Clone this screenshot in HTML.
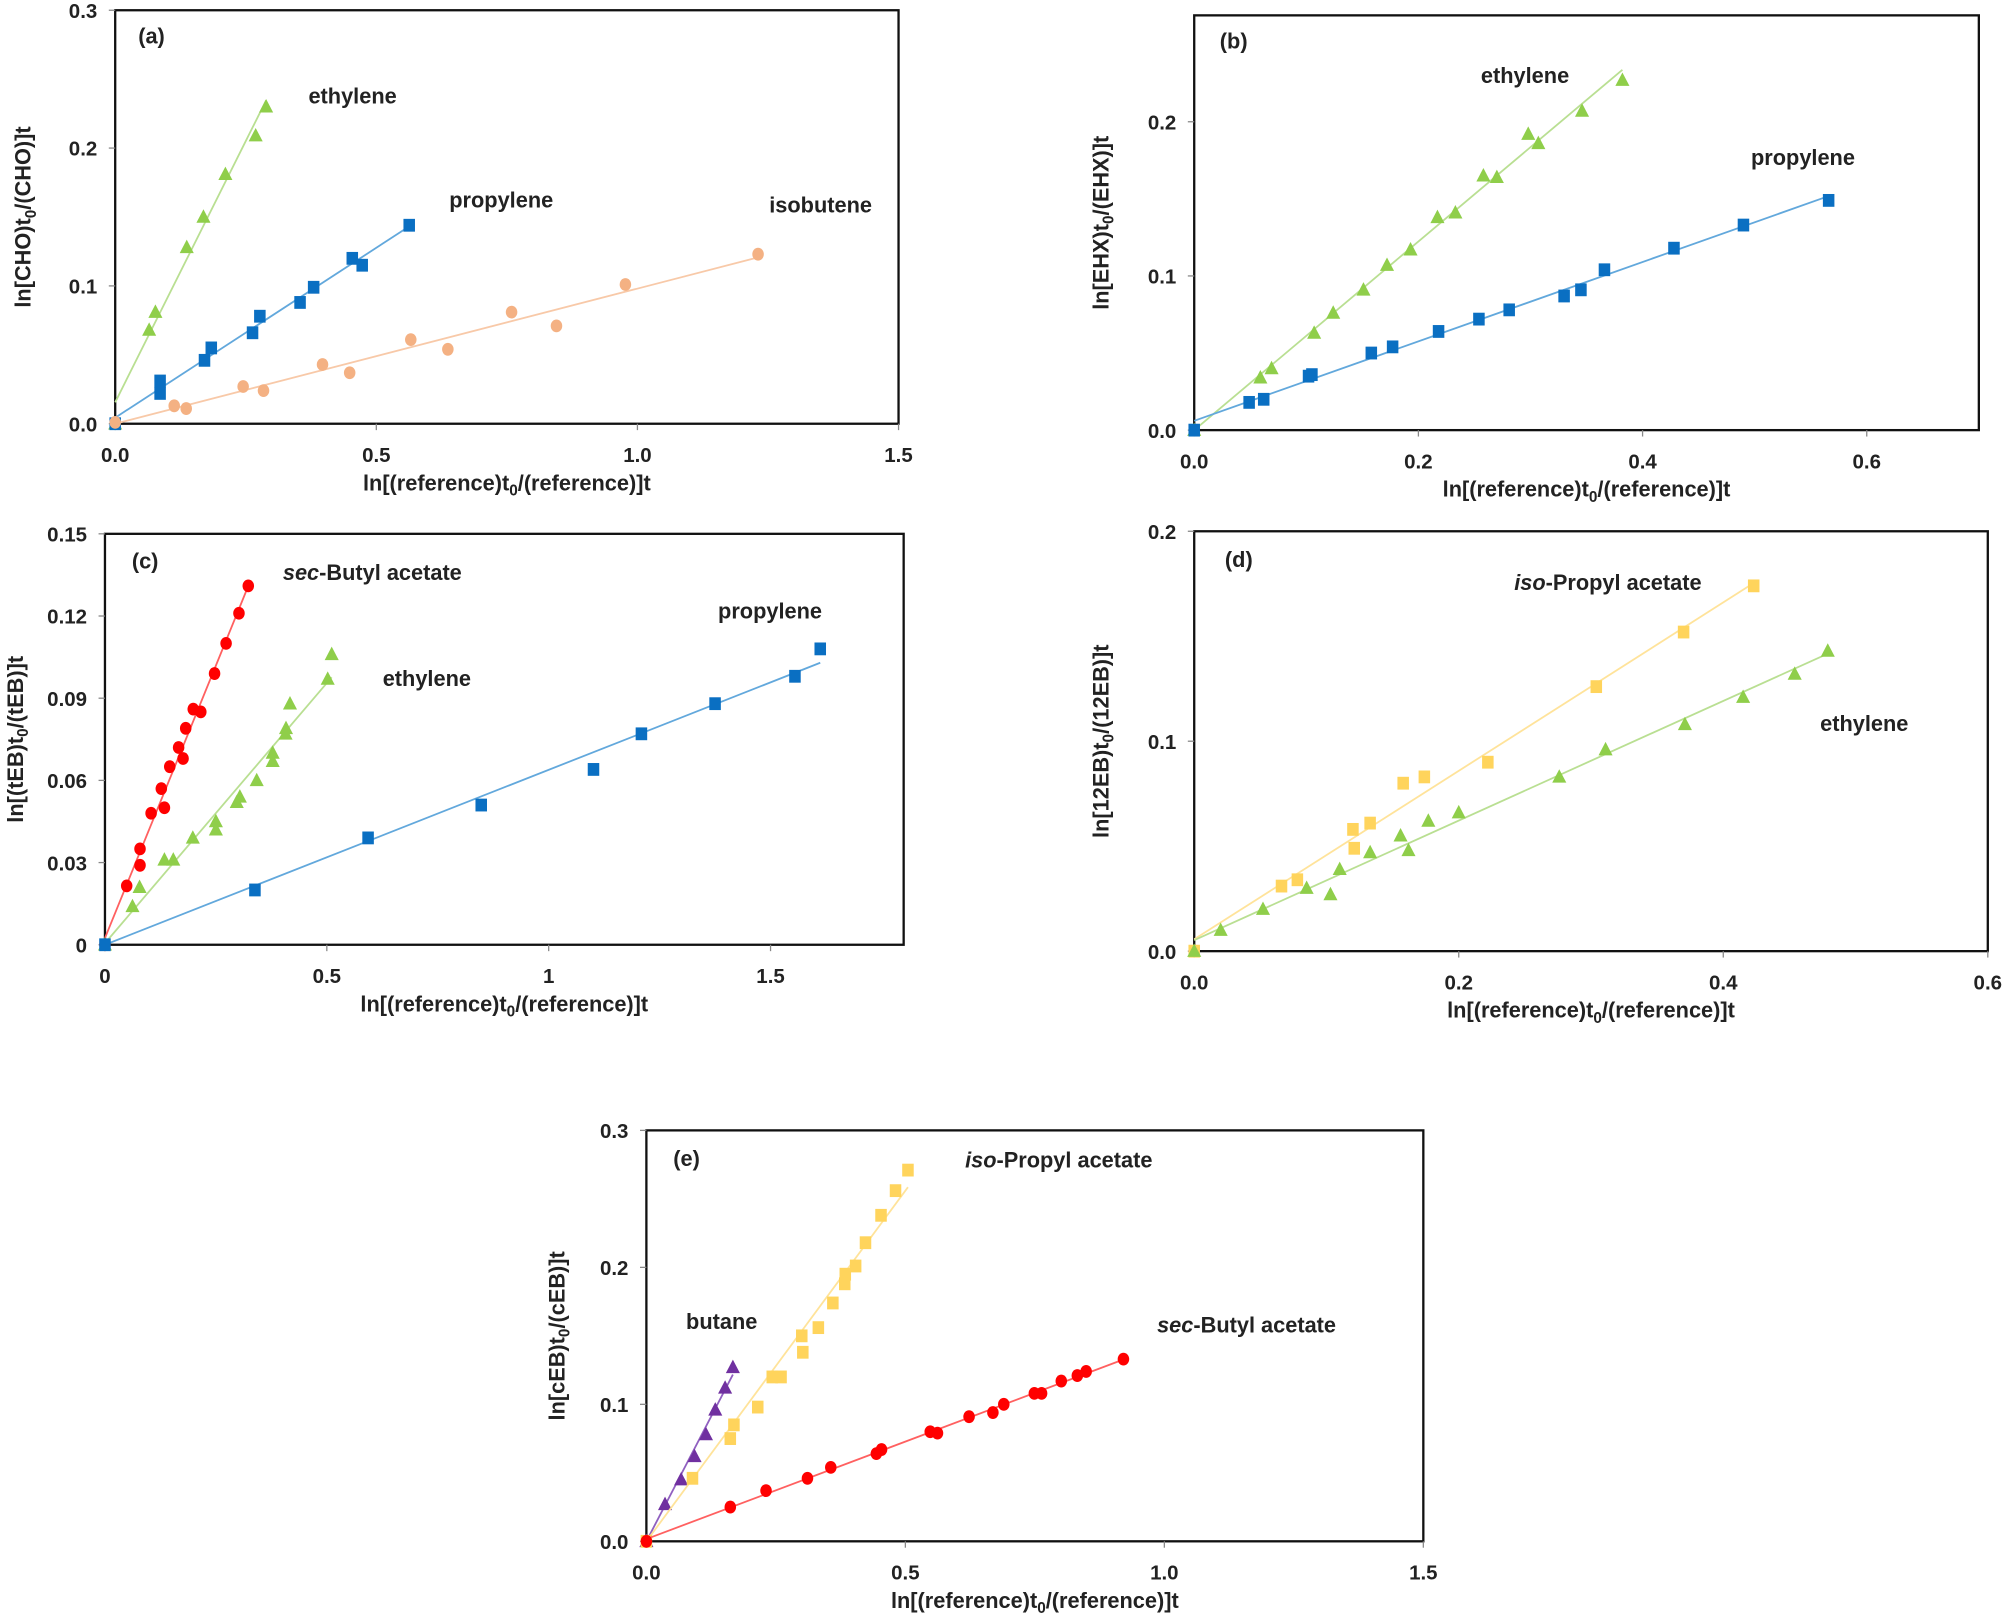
<!DOCTYPE html>
<html><head><meta charset="utf-8"><style>
html,body{margin:0;padding:0;background:#fff}
svg{display:block}
text{font-family:"Liberation Sans",sans-serif;font-weight:bold;fill:#222}
</style></head><body>
<svg id="fig" width="2007" height="1613" viewBox="0 0 1568 1260" preserveAspectRatio="none"></svg>
<script>
// ---- Data arrays ----
// Panel (a)
const aEthX=[0,0.065,0.077,0.137,0.169,0.211,0.269,0.289];
const aEthY=[0,0.068,0.081,0.128,0.150,0.181,0.209,0.230];
const aProX=[0,0.086,0.086,0.171,0.184,0.263,0.277,0.354,0.380,0.454,0.473,0.563];
const aProY=[0,0.031,0.022,0.046,0.055,0.066,0.078,0.088,0.099,0.120,0.115,0.144];
const aIsoX=[0,0.113,0.136,0.245,0.284,0.397,0.449,0.566,0.637,0.759,0.845,0.977,1.231];
const aIsoY=[0.001,0.013,0.011,0.027,0.024,0.043,0.037,0.061,0.054,0.081,0.071,0.101,0.123];
const aXTicks=["0.0","0.5","1.0","1.5"];const aYTicks=["0.0","0.1","0.2","0.3"];
// Panel (b)
const bEthX=[0,0.059,0.069,0.107,0.124,0.151,0.172,0.193,0.217,0.233,0.258,0.270,0.298,0.307,0.346,0.382];
const bEthY=[0,0.034,0.040,0.063,0.076,0.091,0.107,0.117,0.138,0.141,0.165,0.164,0.192,0.186,0.207,0.227];
const bProX=[0,0.049,0.062,0.102,0.105,0.158,0.177,0.218,0.254,0.281,0.330,0.345,0.366,0.428,0.490,0.566];
const bProY=[0,0.018,0.020,0.035,0.036,0.050,0.054,0.064,0.072,0.078,0.087,0.091,0.104,0.118,0.133,0.149];
const bXTicks=["0.0","0.2","0.4","0.6"];const bYTicks=["0.0","0.1","0.2"];
// Panel (c)
const cSecX=[0,0.049,0.079,0.079,0.104,0.134,0.127,0.146,0.176,0.166,0.182,0.199,0.216,0.247,0.273,0.302,0.323];
const cSecY=[0,0.0215,0.029,0.035,0.048,0.050,0.057,0.065,0.068,0.072,0.079,0.086,0.085,0.099,0.110,0.121,0.131];
const cEthX=[0,0.062,0.078,0.134,0.154,0.198,0.25,0.25,0.297,0.304,0.342,0.378,0.378,0.407,0.408,0.417,0.502,0.511];
const cEthY=[0,0.014,0.021,0.031,0.031,0.039,0.042,0.045,0.052,0.054,0.060,0.067,0.070,0.077,0.079,0.088,0.097,0.106];
const cProX=[0,0.338,0.593,0.848,1.101,1.209,1.375,1.555,1.612];
const cProY=[0,0.020,0.039,0.051,0.064,0.077,0.088,0.098,0.108];
const cXTicks=["0","0.5","1","1.5"];const cYTicks=["0","0.03","0.06","0.09","0.12","0.15"];
// Panel (d)
const dIsoX=[0,0.066,0.078,0.120,0.121,0.133,0.158,0.174,0.222,0.304,0.370,0.423];
const dIsoY=[0,0.031,0.034,0.058,0.049,0.061,0.080,0.083,0.090,0.126,0.152,0.174];
const dEthX=[0,0.020,0.052,0.085,0.103,0.110,0.133,0.156,0.162,0.177,0.200,0.276,0.311,0.371,0.415,0.454,0.479];
const dEthY=[0,0.010,0.020,0.030,0.027,0.039,0.047,0.055,0.048,0.062,0.066,0.083,0.096,0.108,0.121,0.132,0.143];
const dXTicks=["0.0","0.2","0.4","0.6"];const dYTicks=["0.0","0.1","0.2"];
// Panel (e)
const eButX=[0,0.036,0.067,0.093,0.115,0.133,0.152,0.167];
const eButY=[0,0.027,0.045,0.062,0.078,0.096,0.112,0.127];
const eIsoX=[0,0.089,0.162,0.169,0.215,0.243,0.260,0.302,0.300,0.332,0.360,0.383,0.384,0.404,0.423,0.453,0.481,0.505];
const eIsoY=[0,0.046,0.075,0.085,0.098,0.120,0.120,0.138,0.150,0.156,0.174,0.188,0.195,0.201,0.218,0.238,0.256,0.271];
const eSecX=[0,0.162,0.231,0.311,0.356,0.444,0.454,0.548,0.562,0.623,0.669,0.690,0.749,0.763,0.801,0.832,0.849,0.921];
const eSecY=[0,0.025,0.037,0.046,0.054,0.064,0.067,0.080,0.079,0.091,0.094,0.100,0.108,0.108,0.117,0.121,0.124,0.133];
const eXTicks=["0.0","0.5","1.0","1.5"];const eYTicks=["0.0","0.1","0.2","0.3"];

const NS="http://www.w3.org/2000/svg";
const svg=document.getElementById('fig');
function mk(tag,attrs,parent){const e=document.createElementNS(NS,tag);for(const k in attrs)e.setAttribute(k,attrs[k]);(parent||svg).appendChild(e);return e;}
const COL={green:['#8fce4a','#b9df92'],blue:['#0a6fc2','#62a8dc'],orange:['#f4b183','#f8c9a8'],red:['#ff0000','#ff6060'],yellow:['#ffd45c','#ffe39a'],purple:['#7030a0','#9060c0']};

function panel(p){
  const g=mk('g',{});
  
  
  const sx=v=>p.x0+(v-p.xmin)/(p.xmax-p.xmin)*(p.x1-p.x0);
  const sy=v=>p.y0-(v-p.ymin)/(p.ymax-p.ymin)*(p.y0-p.y1);
  const fr=mk('rect',{x:p.x0,y:p.y1,width:p.x1-p.x0,height:p.y0-p.y1,fill:'none',stroke:'#111','stroke-width':1.8},g);
  
  
  p.xt.forEach((t,i)=>{const v=p.xmin+i*p.xstep;const x=sx(v);
    mk('line',{x1:x,x2:x,y1:p.y0,y2:p.y0+5,stroke:'#888','stroke-width':1},g);
    const tx=mk('text',{x:x,y:p.y0+30,'text-anchor':'middle','font-size':16},g);tx.textContent=t;
    
    });
  p.yt.forEach((t,i)=>{const v=p.ymin+i*p.ystep;const y=sy(v);
    mk('line',{x1:p.x0-5,x2:p.x0,y1:y,y2:y,stroke:'#888','stroke-width':1},g);
    const tx=mk('text',{x:p.x0-14,y:y+6,'text-anchor':'end','font-size':16},g);tx.textContent=t;
    
    });
  const xt=mk('text',{x:(p.x0+p.x1)/2,y:p.y0+52,'text-anchor':'middle','font-size':17},g);
  xt.innerHTML='ln[(reference)t<tspan font-size="12" dy="4">0</tspan><tspan dy="-4">/(reference)]t</tspan>';
  
  
  const yt=mk('text',{transform:`translate(${p.ytx},${(p.y0+p.y1)/2}) rotate(-90)`,'text-anchor':'middle','font-size':17},g);
  yt.innerHTML=`ln[${p.sp}]t<tspan font-size="12" dy="4">0</tspan><tspan dy="-4">/${p.sp.replace('(','(').replace(/^\(/,'(')}]t</tspan>`;
  yt.innerHTML=`ln${p.sp}t<tspan font-size="12" dy="4">0</tspan><tspan dy="-4">/${p.sp2}t</tspan>`;
  
  
  const pl=mk('text',{x:p.lab[0],y:p.lab[1],'font-size':17},g);pl.textContent='('+p.id+')';
  
  
  p.series.forEach(s=>{
    const [c,lc]=COL[s.c];const n=s.x.length;
    let mx=0,my=0;for(let i=0;i<n;i++){mx+=s.x[i];my+=s.y[i];}mx/=n;my/=n;
    let sxy=0,sxx=0;for(let i=0;i<n;i++){sxy+=(s.x[i]-mx)*(s.y[i]-my);sxx+=(s.x[i]-mx)**2;}
    const b=sxy/sxx,a=my-b*mx;const xe=Math.max(...s.x);
    const ln=mk('line',{x1:sx(0),y1:sy(Math.max(a,0)),x2:sx(xe),y2:sy(a+b*xe),stroke:lc,'stroke-width':1.4},g);
    
    
    for(let i=0;i<n;i++){const X=sx(s.x[i]),Y=sy(s.y[i]);let m;
      if(s.m==='sq')m=mk('rect',{x:X-4.5,y:Y-5,width:9,height:10,fill:c},g);
      else if(s.m==='tri')m=mk('polygon',{points:`${X},${Y-6} ${X-5.5},${Y+4.5} ${X+5.5},${Y+4.5}`,fill:c},g);
      else m=mk('ellipse',{cx:X,cy:Y,rx:4.5,ry:5,fill:c},g);
      
      }
    const t=mk('text',{x:s.lx,y:s.ly,'font-size':17},g);
    if(s.it){t.innerHTML=`<tspan font-style="italic">${s.it}</tspan>${s.label}`;}else t.textContent=s.label;
    
    
  });
}
panel({id:'a',x0:90,x1:702,y0:331,y1:8,xmin:0,xmax:1.5,ymin:0,ymax:0.3,xstep:0.5,ystep:0.1,xt:aXTicks,yt:aYTicks,ytx:24,sp:'[CHO)',sp2:'(CHO)]',lab:[108,34],series:[
 {name:'ethylene',c:'green',m:'tri',x:aEthX,y:aEthY,label:'ethylene',lx:241,ly:81},
 {name:'propylene',c:'blue',m:'sq',x:aProX,y:aProY,label:'propylene',lx:351,ly:162},
 {name:'isobutene',c:'orange',m:'ci',x:aIsoX,y:aIsoY,label:'isobutene',lx:601,ly:166}]});
panel({id:'b',x0:933,x1:1546,y0:336,y1:12,xmin:0,xmax:0.7,ymin:0,ymax:0.269,xstep:0.2,ystep:0.1,xt:bXTicks,yt:bYTicks,ytx:866,sp:'[EHX)',sp2:'(EHX)]',lab:[953,38],series:[
 {name:'ethylene',c:'green',m:'tri',x:bEthX,y:bEthY,label:'ethylene',lx:1157,ly:65},
 {name:'propylene',c:'blue',m:'sq',x:bProX,y:bProY,label:'propylene',lx:1368,ly:129}]});
panel({id:'c',x0:82,x1:706,y0:738,y1:417,xmin:0,xmax:1.8,ymin:0,ymax:0.15,xstep:0.5,ystep:0.03,xt:cXTicks,yt:cYTicks,ytx:18,sp:'[(tEB)',sp2:'(tEB)]',lab:[103,444],series:[
 {name:'sec-butyl-acetate',c:'red',m:'ci',x:cSecX,y:cSecY,it:'sec',label:'-Butyl acetate',lx:221,ly:453},
 {name:'ethylene',c:'green',m:'tri',x:cEthX,y:cEthY,label:'ethylene',lx:299,ly:536},
 {name:'propylene',c:'blue',m:'sq',x:cProX,y:cProY,label:'propylene',lx:561,ly:483}]});
panel({id:'d',x0:933,x1:1553,y0:743,y1:415,xmin:0,xmax:0.6,ymin:0,ymax:0.2,xstep:0.2,ystep:0.1,xt:dXTicks,yt:dYTicks,ytx:866,sp:'[12EB)',sp2:'(12EB)]',lab:[957,443],series:[
 {name:'iso-propyl-acetate',c:'yellow',m:'sq',x:dIsoX,y:dIsoY,it:'iso',label:'-Propyl acetate',lx:1183,ly:461},
 {name:'ethylene',c:'green',m:'tri',x:dEthX,y:dEthY,label:'ethylene',lx:1422,ly:571}]});
panel({id:'e',x0:505,x1:1112,y0:1204,y1:883,xmin:0,xmax:1.5,ymin:0,ymax:0.3,xstep:0.5,ystep:0.1,xt:eXTicks,yt:eYTicks,ytx:441,sp:'[cEB)',sp2:'(cEB)]',lab:[526,911],series:[
 {name:'butane',c:'purple',m:'tri',x:eButX,y:eButY,label:'butane',lx:536,ly:1038},
 {name:'iso-propyl-acetate',c:'yellow',m:'sq',x:eIsoX,y:eIsoY,it:'iso',label:'-Propyl acetate',lx:754,ly:912},
 {name:'sec-butyl-acetate',c:'red',m:'ci',x:eSecX,y:eSecY,it:'sec',label:'-Butyl acetate',lx:904,ly:1041}]});
</script>
</body></html>
